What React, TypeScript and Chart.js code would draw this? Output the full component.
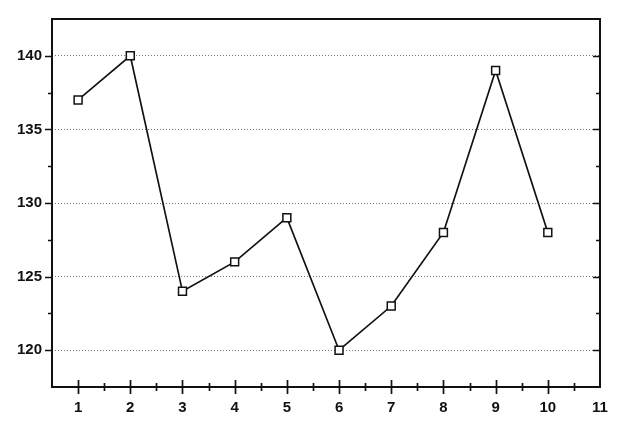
import React, { useEffect, useRef } from "react";
import { Chart, registerables } from "chart.js";
Chart.register(...registerables);

const xValues = [1, 2, 3, 4, 5, 6, 7, 8, 9, 10];
const yValues = [137, 140, 124, 126, 129, 120, 123, 128, 139, 128];
const xTickLabels = ["1", "2", "3", "4", "5", "6", "7", "8", "9", "10", "11"];
const yTickLabels = ["120", "125", "130", "135", "140"];

const framePlugin = {
  id: "frame",
  afterDraw(chart: any) {
    const { ctx, chartArea: a, scales } = chart;
    const xs = scales.x;
    const ys = scales.y;
    ctx.save();
    ctx.strokeStyle = "#111";
    ctx.lineCap = "butt";
    ctx.lineWidth = 2;
    ctx.strokeRect(a.left, a.top, a.right - a.left, a.bottom - a.top);
    ctx.lineWidth = 1.7;
    for (let v = ys.min + 2.5; v < ys.max; v += 2.5) {
      const y = Math.round(ys.getPixelForValue(v)) + 0.5;
      const major = Math.abs(v % 5) < 0.01;
      const len = major ? 7 : 4;
      ctx.beginPath();
      ctx.moveTo(a.left - len, y);
      ctx.lineTo(a.left, y);
      ctx.moveTo(a.right, y);
      ctx.lineTo(a.right - len, y);
      ctx.stroke();
    }
    for (let v = 1; v < xs.max; v += 0.5) {
      const x = Math.round(xs.getPixelForValue(v)) + 0.5;
      const major = Math.abs(v % 1) < 0.01;
      const len = major ? 7 : 4;
      ctx.beginPath();
      ctx.moveTo(x, a.bottom - len);
      ctx.lineTo(x, a.bottom + len);
      ctx.stroke();
    }
    ctx.restore();
  },
};

export default function App() {
  const ref = useRef<HTMLCanvasElement>(null);
  useEffect(() => {
    document.body.style.margin = "0";
    const chart = new Chart(ref.current as HTMLCanvasElement, {
      type: "line",
      data: {
        datasets: [
          {
            data: xValues.map((x, i) => ({ x, y: yValues[i] })),
            borderColor: "#111",
            borderWidth: 1.7,
            pointStyle: "rect",
            pointRadius: 5.6,
            pointBorderWidth: 1.5,
            pointBackgroundColor: "#fff",
            pointBorderColor: "#111",
            tension: 0,
          },
        ],
      },
      options: {
        animation: false,
        responsive: false,
        layout: { padding: { top: 16, right: 20, left: 0, bottom: 0 } },
        plugins: { legend: { display: false }, tooltip: { enabled: false } },
        scales: {
          x: {
            type: "linear",
            min: 0.5,
            max: 11,
            afterFit: (s: any) => {
              s.height = 48;
            },
            afterBuildTicks: (s: any) => {
              s.ticks = xTickLabels.map((t) => ({ value: Number(t) }));
            },
            ticks: {
              padding: 12,
              color: "#111",
              font: { family: "Liberation Sans", size: 15, weight: "bold" },
              callback: (v: any) => String(v),
              maxRotation: 0,
              autoSkip: false,
            },
            grid: { display: false, drawTicks: false },
            border: { display: false },
          },
          y: {
            type: "linear",
            min: 117.5,
            max: 142.5,
            afterFit: (s: any) => {
              s.width = 52;
            },
            afterBuildTicks: (s: any) => {
              s.ticks = yTickLabels.map((t) => ({ value: Number(t) }));
            },
            ticks: {
              padding: 10,
              color: "#111",
              font: { family: "Liberation Sans", size: 15, weight: "bold" },
              callback: (v: any) => String(v),
              autoSkip: false,
            },
            grid: {
              drawTicks: false,
              color: "#777",
              lineWidth: 1,
            },
            border: { display: false, dash: [1, 2] },
          },
        },
      },
      plugins: [framePlugin],
    });
    return () => chart.destroy();
  }, []);
  return (
    <div style={{ position: "absolute", left: 0, top: 0, width: 620, height: 435, background: "#fff" }}>
      <canvas ref={ref} width={620} height={435} />
    </div>
  );
}
